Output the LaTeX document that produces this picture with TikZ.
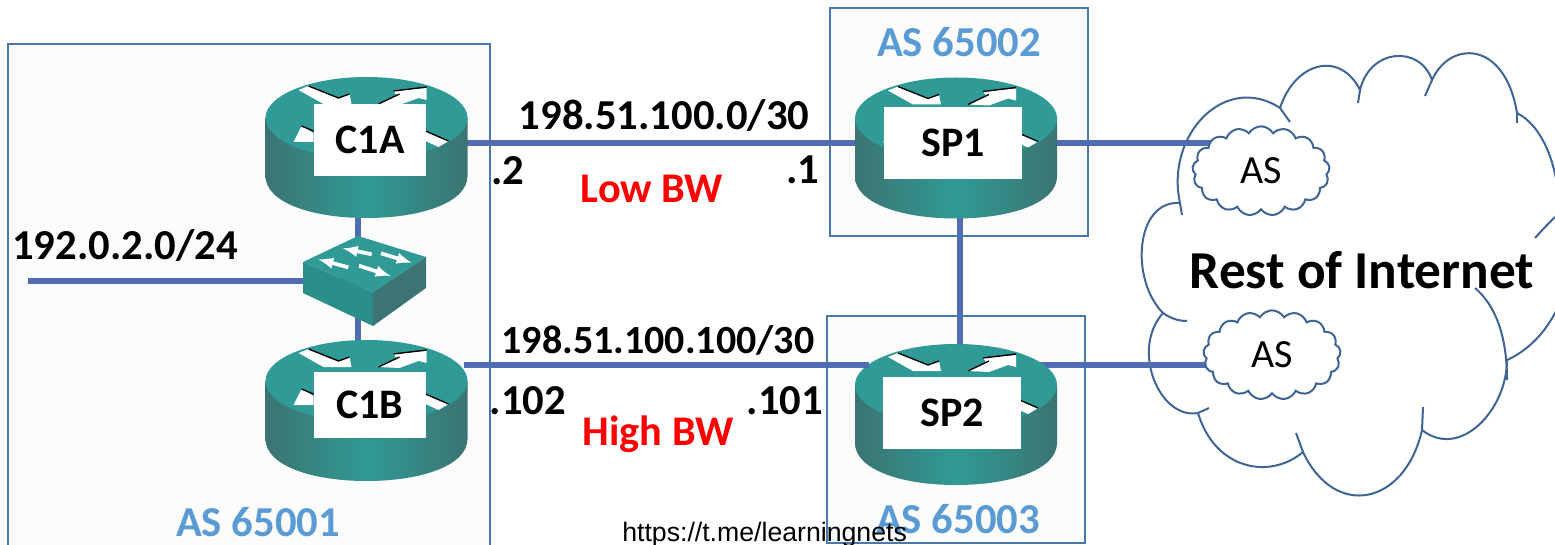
\documentclass[tikz,border=0pt]{standalone}
\usepackage{fontspec}
\setmainfont{Carlito}
\newfontfamily\urlfont{Liberation Sans}
\usetikzlibrary{backgrounds,shapes.symbols}

\definecolor{framecol}{HTML}{4A78AC}
\definecolor{linkcol}{HTML}{4F6DB0}
\definecolor{cloudcol}{HTML}{3F6594}
\definecolor{ascol}{HTML}{5B9BD5}
\definecolor{tealtop}{HTML}{2F9A96}
\definecolor{tealmid}{HTML}{309A94}
\definecolor{tealdark}{HTML}{3B7472}

\tikzset{
	asframe/.style={draw=framecol, line width=2pt, fill=black!1},
	link/.style={draw=linkcol, line width=4pt},
	cloudline/.style={draw=cloudcol, line width=1.5pt},
	portbox/.style={fill=white, inner sep=0pt, font=\fontsize{31.5}{31}\bfseries},
	lanlabel/.style={anchor=base, inner sep=0pt, font=\fontsize{32}{32}\bfseries},
	bwlabel/.style={anchor=base, inner sep=0pt, text=red, font=\fontsize{31.7}{32}\bfseries},
	aslabel/.style={anchor=base, inner sep=0pt, text=ascol, font=\fontsize{32}{32}\bfseries},
	ascloud/.style={cloud, cloud puffs=17, cloud puff arc=120, aspect=1.5, cloudline,
		fill=white, inner sep=0pt, minimum width=103pt, minimum height=67pt,
		font=\fontsize{30}{30}\selectfont},
	routerbody/.pic={
		\shade[left color=tealdark, right color=tealdark, middle color=tealmid]
			(-101,0) -- (-101,58) .. controls (-101,84) and (-56,100) .. (0,100)
			.. controls (56,100) and (101,84) .. (101,58) -- (101,0) -- cycle;
		\fill[tealtop] (0,0) ellipse [x radius=101, y radius=41];
		\fill[white] (-68,-28) -- (-58,-32) -- (-28,-20) -- (-17,-24) -- (-15,-14) -- (-43,-14) -- cycle;
		\draw[line width=1pt] (-58,-32) -- (-28,-20) -- (-17,-24);
		\fill[white] (12,-14) -- (30,-23) -- (27,-27) -- (60,-30) -- (60,-18) -- (52,-20) -- (33,-13) -- cycle;
		\draw[line width=1pt] (12,-14) -- (33,-24) (27,-27) -- (60,-31);
		\fill[white] (-73,24) -- (-65,8) -- (-53,15) -- (-53,24) -- cycle;
		\draw[line width=1pt] (-65,8) -- (-53,13);
		\fill[white] (59,13) -- (82,23) -- (72,29) -- (59,23) -- cycle;
		\draw[line width=1pt] (59,13) -- (82,23);
	},
	switchbody/.pic={
		\fill[tealtop!92!black] (-61,-19) -- (9,11) -- (9,45) -- (-61,12) -- cycle;
		\fill[tealdark] (9,11) -- (62,-24) -- (62,7) -- (9,45) -- cycle;
		\fill[tealtop] (-6,-45) -- (62,-24) -- (9,11) -- (-61,-19) -- cycle;
		\draw[->, white, line width=2.8pt] (7.7,-26.7) -- (-21.3,-32.7);
		\draw[->, white, line width=2.8pt] (17,-27.7) -- (47.7,-18.3);
		\draw[->, white, line width=2.8pt] (-15.7,-13.7) -- (-45.7,-21.7);
		\draw[->, white, line width=2.8pt] (-5,-15.3) -- (26.7,-5);
	},
}

\begin{document}
\begin{tikzpicture}[x=0.75pt, y=-0.75pt, >=latex]
	\useasboundingbox (0,0) rectangle (1555,545);

	% routers and switch
	\pic at (366.5,118) {routerbody};
	\pic at (366.5,381) {routerbody};
	\pic at (956,118.5) {routerbody};
	\pic at (956,385) {routerbody};
	\pic at (364,281) {switchbody};

	\node [portbox, minimum width=84pt, minimum height=54pt] (c1a) at (370,140) {C1A};
	\node [portbox, minimum width=84pt, minimum height=50pt] (c1b) at (370,405) {C1B};
	\node [portbox, minimum width=103.5pt, minimum height=54pt] (sp1) at (953,143) {SP1};
	\node [portbox, minimum width=103.5pt, minimum height=54pt] (sp2) at (952,413) {SP2};

	\coordinate (sw) at (358,281);
	\coordinate (lanend) at (28,281);
	\coordinate (lowlan) at (660,365);
	\coordinate (c1bport) at (464,365);
	\coordinate (sp2port) at (869,365);
	\coordinate (spdrop) at (960,236);

	\node [ascloud] (as1) at (1261,171) {AS};
	\node [ascloud] (as2) at (1272,355) {AS};

	\node [font=\fontsize{40}{40}\bfseries, anchor=base, inner sep=0pt] (rest) at (1362,288) {Rest of Internet};

	% everything behind the routers
	\begin{scope}[on background layer]
		\draw[asframe] (8,44) rectangle (490,546);
		\draw[asframe] (830,8) rectangle (1088,236);
		\draw[asframe] (827,316) rectangle (1085,543);

		\begin{scope}
			\clip (0,0) rectangle (1555,545);
			\draw[cloudline, fill=white] (1180,203)
				.. controls (1165,135) and (1225,72) .. (1280,108)
				.. controls (1295,62) and (1340,50) .. (1360,90)
				.. controls (1370,48) and (1420,45) .. (1432,80)
				.. controls (1450,40) and (1505,40) .. (1517,113)
				.. controls (1540,125) and (1553,155) .. (1558,190)
				-- (1570,190) -- (1570,305) -- (1558,307)
				.. controls (1545,335) and (1525,352) .. (1507,360)
				.. controls (1507,410) and (1460,460) .. (1422,430)
				.. controls (1405,505) and (1335,520) .. (1303,452)
				.. controls (1270,480) and (1215,470) .. (1198,413)
				.. controls (1160,420) and (1130,350) .. (1163,313)
				.. controls (1130,280) and (1135,200) .. (1180,203) -- cycle;
			\draw[cloudline] (1180,203) -- (1182,215);
			\draw[cloudline] (1280,108) -- (1290,122);
			\draw[cloudline] (1360,90) -- (1358,103);
			\draw[cloudline] (1432,80) -- (1425,96);
			\draw[cloudline] (1517,113) -- (1517,123);
			\draw[cloudline] (1535,238) .. controls (1542,230) and (1550,222) .. (1555,217);
			\draw[cloudline] (1475,288) .. controls (1495,305) and (1507,335) .. (1507,380);
			\draw[cloudline] (1422,430) -- (1423,407);
			\draw[cloudline] (1303,452) -- (1296,433);
			\draw[cloudline] (1198,413) -- (1209,408);
			\draw[cloudline] (1163,313) .. controls (1170,318) and (1178,321) .. (1187,321);
		\end{scope}

		\draw[link] (c1a |- sp1) -- (sp1);
		\draw[link] (sp1) -- (sp1 -| as1);
		\draw[link] (sp2 |- lowlan) -- (lowlan -| as2);
		\draw[link] (sw |- c1a) -- (sw |- c1b);
		\draw[link] (spdrop |- sp1) -- (spdrop |- sp2);
		\draw[link] (lanend) -- (sw);
	\end{scope}

	\draw[link] (c1bport) -- (sp2port);

	\node [lanlabel] (lan1) at (664,130) {198.51.100.0/30};
	\node [lanlabel, font=\fontsize{30}{32}\bfseries] (lan2) at (658,353) {198.51.100.100/30};
	\node [lanlabel] (lan3) at (125,259) {192.0.2.0/24};
	\node [lanlabel] (ipa) at (508,185) {.2};
	\node [lanlabel] (ipb) at (803,184) {.1};
	\node [lanlabel] (ipc) at (528,414) {.102};
	\node [lanlabel] (ipd) at (785,414) {.101};
	\node [bwlabel] (lowbw) at (652,203) {Low BW};
	\node [bwlabel] (highbw) at (658,445) {High BW};
	\node [aslabel] (as65001) at (258,536) {AS 65001};
	\node [aslabel] (as65002) at (959,57) {AS 65002};
	\node [aslabel] (as65003) at (958,533) {AS 65003};

	\node [anchor=base west, inner sep=0pt, font=\urlfont\fontsize{20}{20}\selectfont] (url) at (622,541) {https://t.me/learningnets};
\end{tikzpicture}
\end{document}
